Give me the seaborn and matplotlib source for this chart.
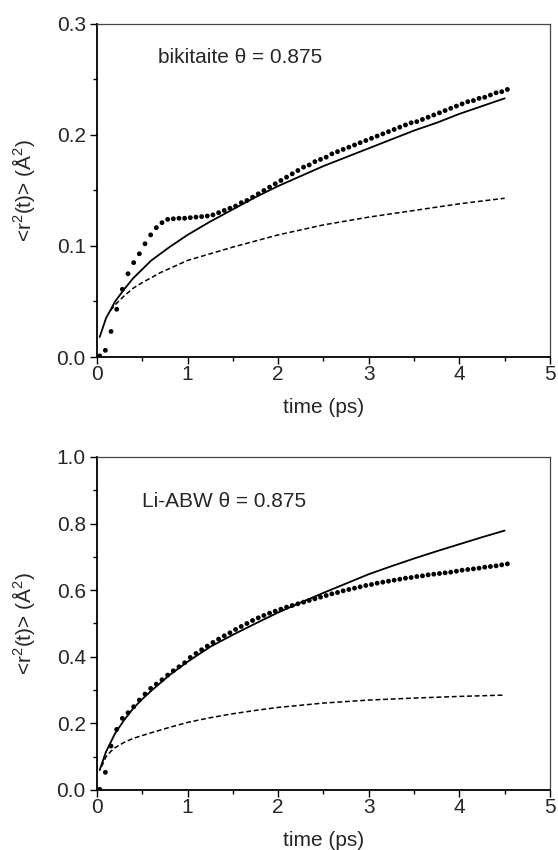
import numpy as np
import pandas as pd
import matplotlib
matplotlib.use("Agg")
import matplotlib.pyplot as plt
import seaborn as sns

# ---------------- data ----------------
# sampling times of the simulated MSD points (ps)
t_sim = [0.03 + 0.0625 * k for k in range(73)]

bik_sim = [0.001, 0.006, 0.023, 0.043, 0.061, 0.075, 0.085, 0.093, 0.102, 0.110,
           0.1165, 0.121, 0.124, 0.1245, 0.125, 0.125, 0.1255, 0.126, 0.1265, 0.127,
           0.128, 0.130, 0.132, 0.134, 0.136, 0.139, 0.141, 0.144, 0.147, 0.150,
           0.153, 0.156, 0.159, 0.162, 0.165, 0.168, 0.171, 0.173, 0.176, 0.178,
           0.180, 0.183, 0.185, 0.187, 0.189, 0.191, 0.193, 0.195, 0.197, 0.199,
           0.201, 0.203, 0.205, 0.207, 0.209, 0.211, 0.212, 0.214, 0.216, 0.218,
           0.220, 0.222, 0.224, 0.226, 0.228, 0.230, 0.231, 0.233, 0.234, 0.236,
           0.238, 0.239, 0.241]

abw_sim = [0.002, 0.053, 0.132, 0.182, 0.215, 0.232, 0.250, 0.270, 0.288, 0.305,
           0.318, 0.331, 0.345, 0.358, 0.370, 0.382, 0.398, 0.410, 0.421, 0.432,
           0.443, 0.453, 0.463, 0.472, 0.482, 0.491, 0.500, 0.509, 0.517, 0.524,
           0.531, 0.537, 0.543, 0.549, 0.554, 0.559, 0.564, 0.569, 0.574, 0.579,
           0.584, 0.589, 0.593, 0.598, 0.602, 0.606, 0.610, 0.614, 0.617, 0.621,
           0.624, 0.627, 0.630, 0.633, 0.636, 0.638, 0.641, 0.643, 0.646, 0.648,
           0.650, 0.652, 0.654, 0.657, 0.660, 0.662, 0.664, 0.666, 0.669, 0.671,
           0.673, 0.676, 0.679]

# model curves
t_fit = [0.03, 0.1, 0.2, 0.3, 0.4, 0.5, 0.6, 0.8, 1.0, 1.25, 1.5, 1.75, 2.0,
         2.25, 2.5, 2.75, 3.0, 3.25, 3.5, 3.75, 4.0, 4.25, 4.5]
bik_solid = [0.018, 0.035, 0.050, 0.061, 0.071, 0.079, 0.087, 0.099, 0.110, 0.122,
             0.133, 0.144, 0.154, 0.163, 0.172, 0.180, 0.188, 0.196, 0.204, 0.211,
             0.219, 0.226, 0.233]
abw_solid = [0.060, 0.115, 0.170, 0.210, 0.245, 0.273, 0.298, 0.345, 0.385, 0.430,
             0.466, 0.500, 0.533, 0.563, 0.592, 0.620, 0.648, 0.672, 0.695, 0.717,
             0.738, 0.759, 0.779]

t_dash_bik = [0.15, 0.2, 0.3, 0.4, 0.5, 0.7, 1.0, 1.5, 2.0, 2.5, 3.0, 3.5, 4.0, 4.5]
bik_dash = [0.042, 0.047, 0.055, 0.062, 0.067, 0.076, 0.087, 0.099, 0.110, 0.119,
            0.126, 0.132, 0.138, 0.143]

t_dash_abw = [0.05, 0.1, 0.15, 0.2, 0.3, 0.4, 0.6, 0.8, 1.0, 1.25, 1.5, 1.75, 2.0,
              2.5, 3.0, 3.5, 4.0, 4.5]
abw_dash = [0.070, 0.100, 0.115, 0.127, 0.143, 0.155, 0.172, 0.188, 0.203, 0.217,
            0.229, 0.239, 0.248, 0.261, 0.270, 0.276, 0.281, 0.285]

panels = [
    dict(sim=bik_sim, solid=bik_solid, t_dash=t_dash_bik, dash=bik_dash,
         ylim=(0, 0.3), yticks=[0.0, 0.1, 0.2, 0.3], yminor=[0.05, 0.15, 0.25],
         label="bikitaite \u03b8 = 0.875", lx=0.135, ly=0.90),
    dict(sim=abw_sim, solid=abw_solid, t_dash=t_dash_abw, dash=abw_dash,
         ylim=(0, 1.0), yticks=[0.0, 0.2, 0.4, 0.6, 0.8, 1.0],
         yminor=[0.1, 0.3, 0.5, 0.7, 0.9],
         label="Li-ABW \u03b8 = 0.875", lx=0.099, ly=0.866),
]

# ---------------- style ----------------
sns.set_style("ticks")
plt.rcParams['font.family'] = ['Liberation Sans', 'DejaVu Sans']
plt.rcParams['mathtext.fontset'] = 'custom'
plt.rcParams['mathtext.rm'] = 'Liberation Sans'
plt.rcParams['mathtext.it'] = 'Liberation Sans:italic'

FS = 15
fig = plt.figure(figsize=(5.58, 8.5), dpi=100)
rects = [[0.1738, 0.58, 0.8118, 0.3918], [0.1738, 0.0706, 0.8118, 0.3918]]

for rect, p in zip(rects, panels):
    ax = fig.add_axes(rect)
    df_sim = pd.DataFrame({"t": t_sim, "msd": p["sim"]})
    df_fit = pd.DataFrame({"t": t_fit, "msd": p["solid"]})
    df_dash = pd.DataFrame({"t": p["t_dash"], "msd": p["dash"]})

    sns.lineplot(data=df_dash, x="t", y="msd", ax=ax, color="black",
                 linewidth=1.1, linestyle=(0, (3.2, 1.8)), sort=True, estimator=None)
    sns.lineplot(data=df_fit, x="t", y="msd", ax=ax, color="black",
                 linewidth=1.3, sort=True, estimator=None)
    sns.scatterplot(data=df_sim, x="t", y="msd", ax=ax, color="black",
                    s=12, edgecolor="none", zorder=5)

    ax.set_xlim(0, 5)
    ax.set_ylim(*p["ylim"])
    ax.set_xticks([0, 1, 2, 3, 4, 5])
    ax.set_xticks([0.5, 1.5, 2.5, 3.5, 4.5], minor=True)
    ax.set_yticks(p["yticks"])
    ax.set_yticks(p["yminor"], minor=True)
    ax.set_yticklabels([f"{v:.1f}" for v in p["yticks"]])
    ax.tick_params(axis="both", which="major", direction="out", length=5,
                   width=1.0, labelsize=FS, color="black")
    ax.tick_params(axis="x", which="major", pad=1)
    ax.tick_params(axis="y", which="major", pad=3)
    ax.tick_params(axis="both", which="minor", direction="out", length=3,
                   width=1.0, color="black")
    for side in ["left", "bottom"]:
        ax.spines[side].set_linewidth(1.3)
        ax.spines[side].set_color("black")
    for side in ["top", "right"]:
        ax.spines[side].set_visible(True)
        ax.spines[side].set_linewidth(0.9)
        ax.spines[side].set_color("#444444")

    ax.set_xlabel("time (ps)", fontsize=FS, labelpad=10)
    ax.set_ylabel(r"<r$^2$(t)> ($\mathrm{\AA}^2$)", fontsize=FS, labelpad=14)
    ax.text(p["lx"], p["ly"], p["label"], transform=ax.transAxes,
            fontsize=FS, ha="left", va="center")

fig.savefig("out.png", dpi=100)
